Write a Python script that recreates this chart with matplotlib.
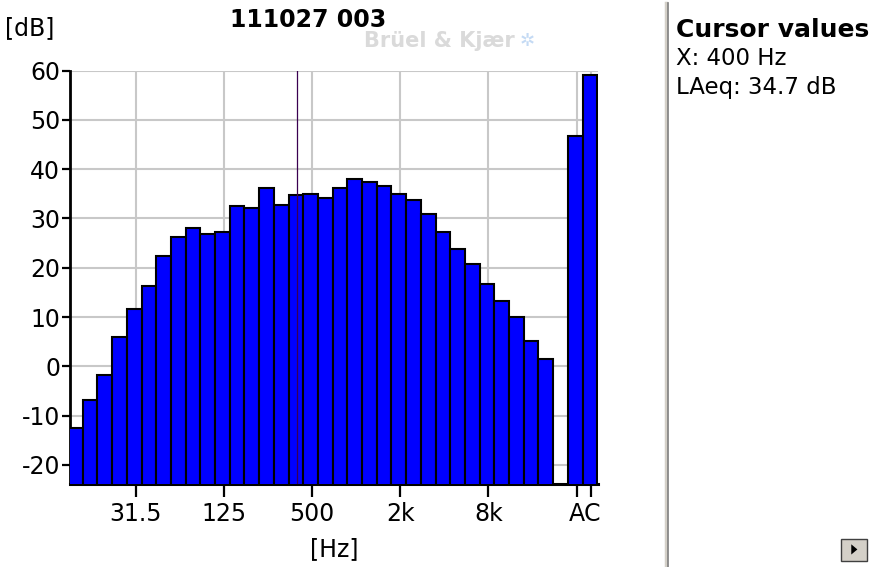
import matplotlib

matplotlib.use("Agg")
import matplotlib.pyplot as plt
import numpy as np
from matplotlib.patches import Rectangle, Polygon
from matplotlib.lines import Line2D

# third-octave bands 12.5 Hz .. 20 kHz, then the A and C broadband values
bands = [
    "12.5", "16", "20", "25", "31.5", "40", "50", "63", "80", "100", "125",
    "160", "200", "250", "315", "400", "500", "630", "800", "1k", "1.25k",
    "1.6k", "2k", "2.5k", "3.15k", "4k", "5k", "6.3k", "8k", "10k", "12.5k",
    "16k", "20k",
]
band_levels = [
    -12.6, -6.9, -1.8, 5.9, 11.6, 16.2, 22.3, 26.2, 28.0, 26.9, 27.3,
    32.5, 32.2, 36.1, 32.7, 34.7, 35.0, 34.2, 36.2, 38.0, 37.5,
    36.5, 35.0, 33.8, 31.0, 27.3, 23.8, 20.8, 16.8, 13.2, 10.0,
    5.1, 1.4,
]
total_labels = ["A", "C"]
total_levels = [46.8, 59.1]
tick_bands = ["31.5", "125", "500", "2k", "8k"]
cursor_band = "400"

title = "111027 003"
y_ticks = [-20, -10, 0, 10, 20, 30, 40, 50, 60]

x_band = np.arange(len(bands))
x_total = np.arange(len(total_labels)) + len(bands) + 1

fig = plt.figure(figsize=(8.74, 5.67), dpi=100)
ax = fig.add_axes([0.0801, 0.1464, 0.6041, 0.7289])

ax.bar(x_band, np.array(band_levels) + 30, bottom=-30, width=1.0,
       color="#0000ff", edgecolor="black", linewidth=1.5, zorder=3)
ax.bar(x_total, np.array(total_levels) + 30, bottom=-30, width=1.0,
       color="#0000ff", edgecolor="black", linewidth=1.5, zorder=3)

ax.set_xlim(-0.37, 35.55)
ax.set_ylim(-23.9, 60)

xt = [bands.index(b) + 0.1 for b in tick_bands] + list(x_total + 0.1)
ax.set_xticks(xt)
ax.set_xticklabels(tick_bands + total_labels)
ax.set_yticks(y_ticks)
ax.set_yticklabels([str(v) for v in y_ticks])
ax.tick_params(axis="x", length=9, width=1.6, labelsize=17, pad=4)
ax.tick_params(axis="y", length=6, width=1.6, labelsize=17, pad=1)

ax.grid(True, color="#c8c8c8", linewidth=1.5, zorder=0)
ax.set_axisbelow(True)
for side in ["top", "right"]:
    ax.spines[side].set_visible(False)
ax.spines["left"].set_linewidth(2)
ax.spines["bottom"].set_linewidth(2.2)

ax.axvline(bands.index(cursor_band) + 0.1, color="#3a0050", linewidth=0.9, zorder=4)

ax.set_xlabel("[Hz]", fontsize=17, labelpad=8)
fig.text(0.006, 0.951, "[dB]", fontsize=17, ha="left", va="center")
fig.text(0.353, 0.964, title, fontsize=17, fontweight="bold", ha="center", va="center")
fig.text(0.503, 0.927, "Brüel & Kjær", fontsize=15, fontweight="bold",
         color="#dadada", ha="center", va="center")
fig.text(0.603, 0.927, "✲", fontsize=13, color="#c4daf4", ha="center", va="center")

# right-hand cursor panel
fig.add_artist(Line2D([0.7625, 0.7625], [0.0, 0.995], color="#d4d0c8", linewidth=2.5))
fig.add_artist(Line2D([0.7645, 0.7645], [0.0, 0.995], color="#808080", linewidth=1.2))
fig.text(0.774, 0.947, "Cursor values", fontsize=18, fontweight="bold", va="center")
fig.text(0.774, 0.897, "X: %s Hz" % cursor_band, fontsize=16.5, va="center")
fig.text(0.774, 0.845, "LAeq: %.1f dB" % band_levels[bands.index(cursor_band)],
         fontsize=16.5, va="center")

fig.add_artist(Rectangle((0.962, 0.010), 0.030, 0.040, transform=fig.transFigure,
                         facecolor="#d4d0c8", edgecolor="#404040", linewidth=1.0))
fig.add_artist(Polygon([[0.974, 0.022], [0.974, 0.040], [0.981, 0.031]], closed=True,
                       transform=fig.transFigure, facecolor="black", edgecolor="none"))

fig.savefig("out.png", dpi=100)
